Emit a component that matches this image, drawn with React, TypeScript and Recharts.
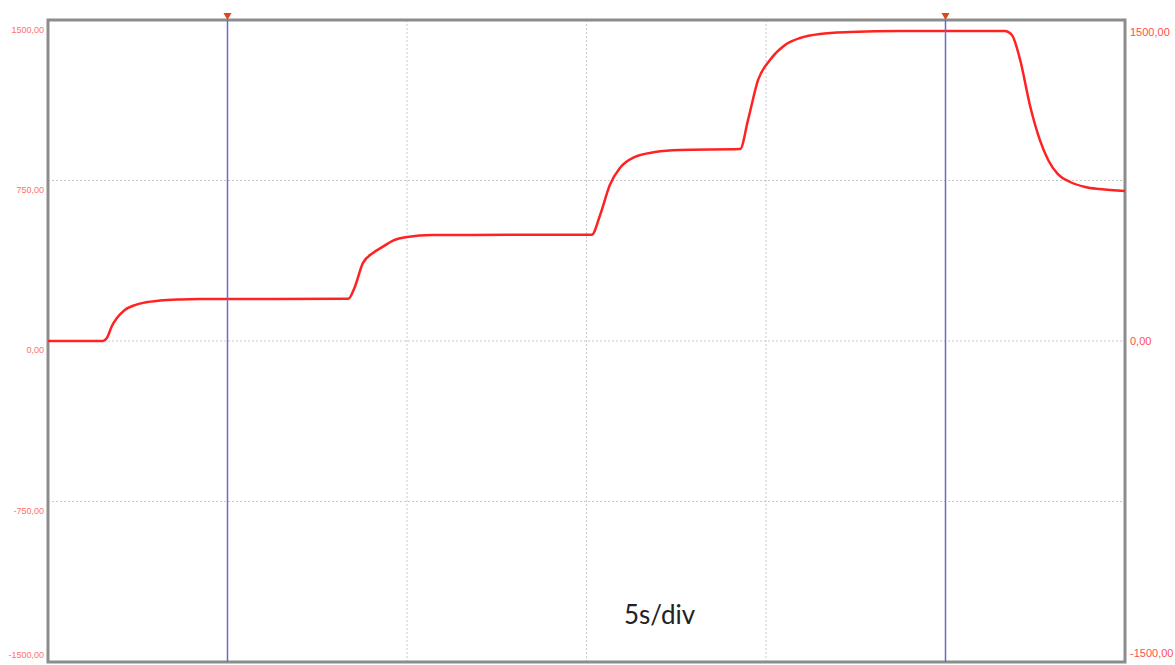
import React from 'react';
import {
  LineChart,
  Line,
  XAxis,
  YAxis,
  CartesianGrid,
  ReferenceLine,
  ReferenceArea,
} from 'recharts';

// time in seconds (5 s per division, 6 divisions)
const times = [
  0, 1.53, 1.64, 1.78, 1.92, 2.14, 2.42, 2.7, 3.12, 3.68, 4.23, 8.36,
  8.55, 8.77, 9.05, 9.33, 9.61, 10.0, 10.72, 15.15,
  15.38, 15.65, 15.93, 16.35, 16.91, 17.6, 19.28,
  19.5, 19.78, 20.11, 20.53, 20.95, 21.5, 22.34, 23.73, 26.66,
  26.85, 27.08, 27.35, 27.63, 27.86, 28.13, 28.47, 28.89, 29.3, 30,
];
const values = [
  0, 0, 14, 70, 107, 145, 168, 180, 189, 194, 196, 197,
  254, 364, 411, 441, 469, 486, 495, 497,
  589, 729, 808, 860, 883, 893, 897,
  1033, 1220, 1313, 1383, 1416, 1435, 1444, 1449, 1449,
  1430, 1313, 1103, 939, 846, 780, 743, 720, 710, 701,
];
const xTicks = [0, 5, 10, 15, 20, 25, 30];
const leftTicks = [-1500, -750, 0, 750, 1500];
const rightTicks = [-1500, 0, 1500];
const cursors = [5, 25];

const data = times.map((t, i) => ({ t, v: values[i] }));

const fmt = (n: number) => n.toFixed(2).replace('.', ',');

const LeftTick = (props: any) => {
  const { x, y, payload } = props;
  const val = payload.value;
  const dy = val === 1500 ? 10 : val === -1500 ? -7 : 9;
  return (
    <text x={x} y={y + dy} textAnchor="end" dominantBaseline="central" fontSize={9} fill="#ff7070" fontFamily="Liberation Sans, Arial, sans-serif">
      {fmt(val)}
    </text>
  );
};

const RightTick = (props: any) => {
  const { x, y, payload } = props;
  const val = payload.value;
  const dy = val === 1500 ? 12 : val === -1500 ? -9 : 0;
  return (
    <text x={x} y={y + dy} textAnchor="start" dominantBaseline="central" fontSize={11} fill="#ff4d4d" fontFamily="Liberation Sans, Arial, sans-serif">
      {fmt(val)}
    </text>
  );
};

const Marker = (props: any) => {
  const { x, y } = props.viewBox || {};
  if (x == null) return null;
  return <path d={`M${x - 4},${y - 7} L${x + 4},${y - 7} L${x},${y}`} fill="#e0461a" />;
};

export default function App() {
  return (
    <div style={{ position: 'absolute', left: 0, top: 0, width: 1175, height: 665, background: '#fff' }}>
      <LineChart width={1175} height={665} data={data} margin={{ top: 20, right: 0, bottom: 3, left: 0 }}>
        <CartesianGrid yAxisId="left" stroke="#c8c8c8" strokeDasharray="2 2" />
        <XAxis dataKey="t" type="number" domain={[0, 30]} ticks={xTicks} hide />
        <YAxis
          yAxisId="left"
          type="number"
          domain={[-1500, 1500]}
          allowDataOverflow
          ticks={leftTicks}
          width={48}
          axisLine={false}
          tickLine={false}
          tickSize={0}
          tickMargin={4}
          tick={<LeftTick />}
          interval={0}
        />
        <YAxis
          yAxisId="right"
          type="number"
          orientation="right"
          domain={[-1500, 1500]}
          allowDataOverflow
          ticks={rightTicks}
          width={50}
          axisLine={false}
          tickLine={false}
          tickSize={0}
          tickMargin={5}
          tick={<RightTick />}
          interval={0}
        />
        <ReferenceArea
          yAxisId="right"
          x1={0}
          x2={30}
          y1={-1500}
          y2={1500}
          fill="none"
          stroke="#8c8c8c"
          strokeWidth={3}
        />
        <Line
          yAxisId="left"
          dataKey="v"
          type="monotone"
          stroke="#ff2222"
          strokeWidth={2.5}
          dot={false}
          isAnimationActive={false}
        />
        {cursors.map((c) => (
          <ReferenceLine key={c} yAxisId="left" x={c} stroke="#6a6ac8" strokeWidth={1.5} label={<Marker />} />
        ))}
      </LineChart>
      <div style={{ position: 'absolute', left: 624, top: 598, fontFamily: 'Lato, sans-serif', fontSize: 26, color: '#222' }}>
        5s/div
      </div>
    </div>
  );
}
